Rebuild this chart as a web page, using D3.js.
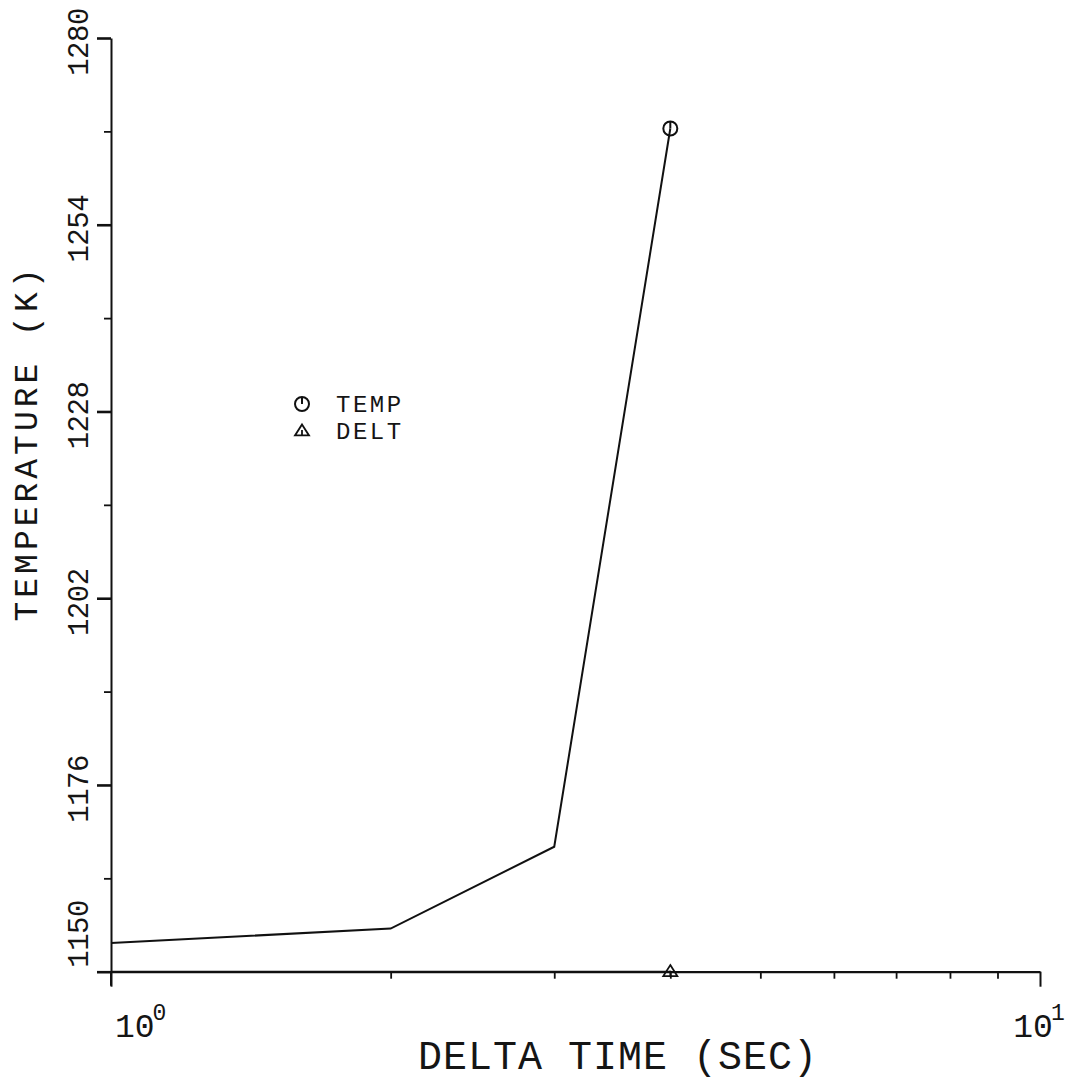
<!DOCTYPE html>
<html>
<head>
<meta charset="utf-8">
<script src="https://cdn.jsdelivr.net/npm/d3@7"></script>
<style>
  body { margin: 0; background: #fff; }
  svg { display: block; }
  text { font-family: "Liberation Mono", "DejaVu Sans Mono", monospace; fill: #151515; }
</style>
</head>
<body>
<svg id="chart" width="1068" height="1082"></svg>
<script>
// Run data: temperature and step size against delta time
const deltaTime = [1, 2, 3, 4];
const tempK = [1154.0, 1156.0, 1167.4, 1267.4];
const deltK = [1150, 1150, 1150, 1150];
const seriesNames = ["TEMP", "DELT"];

// Axis ticks
const yMajorTicks = [1150, 1176, 1202, 1228, 1254, 1280];
const yMinorTicks = [1163, 1189, 1215, 1241, 1267];
const xDecadeTicks = [1, 10];
const xMinorTicks = [2, 3, 4, 5, 6, 7, 8, 9];
const xDecadeBase = ["10", "10"];
const xDecadeExp = ["0", "1"];
const xTitle = "DELTA TIME (SEC)";
const yTitle = "TEMPERATURE (K)";

const svg = d3.select("#chart");
const ink = "#111";

const x = d3.scaleLog().domain([1, 10]).range([111, 1040]);
const y = d3.scaleLinear().domain([1150, 1280]).range([971.7, 38]);

// ---- Y axis ----
const yMajor = svg.append("g").attr("transform", `translate(${x(1)},0)`)
  .call(d3.axisLeft(y).tickValues(yMajorTicks).tickSize(14).tickSizeOuter(0).tickFormat(""));
yMajor.select(".domain").attr("stroke", ink).attr("stroke-width", 2);
yMajor.selectAll(".tick line").attr("stroke", ink).attr("stroke-width", 2.6);

const yMinor = svg.append("g").attr("transform", `translate(${x(1)},0)`)
  .call(d3.axisLeft(y).tickValues(yMinorTicks).tickSize(7).tickFormat(""));
yMinor.select(".domain").remove();
yMinor.selectAll(".tick line").attr("stroke", ink).attr("stroke-width", 1.8);

// axis stub below the origin
svg.append("line")
  .attr("x1", x(1)).attr("x2", x(1))
  .attr("y1", y(1150)).attr("y2", y(1150) + 14)
  .attr("stroke", ink).attr("stroke-width", 2);

// rotated y tick labels
svg.append("g").selectAll("text")
  .data(yMajorTicks)
  .join("text")
  .attr("transform", (d, i) => i === 0
    ? `translate(88,${y(d) - 4}) rotate(-90)`
    : `translate(88,${y(d) + 4}) rotate(-90)`)
  .attr("text-anchor", (d, i) => i === 0 ? "start" : "middle")
  .attr("font-size", 29)
  .attr("letter-spacing", -0.5)
  .text(d => d);

// ---- X axis ----
const xMinor = svg.append("g").attr("transform", `translate(0,${y(1150)})`)
  .call(d3.axisBottom(x).tickValues(xMinorTicks).tickSize(7).tickSizeOuter(0).tickFormat(""));
xMinor.select(".domain").attr("stroke", ink).attr("stroke-width", 2.2);
xMinor.selectAll(".tick line").attr("stroke", ink).attr("stroke-width", 1.8);

const xDecade = svg.append("g").attr("transform", `translate(0,${y(1150)})`)
  .call(d3.axisBottom(x).tickValues(xDecadeTicks).tickSize(15).tickFormat(""));
xDecade.select(".domain").remove();
xDecade.selectAll(".tick line").attr("stroke", ink).attr("stroke-width", 2);

// decade labels with superscript exponents
const decadeLabels = svg.append("g").selectAll("text")
  .data(xDecadeTicks)
  .join("text")
  .attr("x", (d, i) => i === 0 ? x(d) + 4 : x(d) - 1)
  .attr("y", 1037)
  .attr("text-anchor", (d, i) => i === 0 ? "start" : "middle")
  .attr("font-size", 33);
decadeLabels.append("tspan").text((d, i) => xDecadeBase[i]);
decadeLabels.append("tspan")
  .attr("font-size", 23)
  .attr("dx", -2)
  .attr("dy", -17)
  .text((d, i) => xDecadeExp[i]);

// ---- Titles ----
svg.append("text")
  .attr("x", 618).attr("y", 1069)
  .attr("text-anchor", "middle")
  .attr("font-size", 40)
  .attr("letter-spacing", 1)
  .text(xTitle);

svg.append("text")
  .attr("transform", "translate(37,443) rotate(-90)")
  .attr("text-anchor", "middle")
  .attr("font-size", 33)
  .attr("letter-spacing", 4)
  .text(yTitle);

// ---- Series ----
const line = d3.line().x((d, i) => x(deltaTime[i])).y(d => y(d));

svg.append("path")
  .datum(deltK)
  .attr("d", line)
  .attr("fill", "none")
  .attr("stroke", ink)
  .attr("stroke-width", 2);

svg.append("path")
  .datum(tempK)
  .attr("d", line)
  .attr("fill", "none")
  .attr("stroke", ink)
  .attr("stroke-width", 2);

// plotter symbols
function circleSymbol(g, cx, cy) {
  g.append("circle").attr("cx", cx).attr("cy", cy).attr("r", 7)
    .attr("fill", "none").attr("stroke", ink).attr("stroke-width", 2);
  g.append("line").attr("x1", cx).attr("x2", cx).attr("y1", cy - 7).attr("y2", cy)
    .attr("stroke", ink).attr("stroke-width", 2);
}
function triangleSymbol(g, cx, cy) {
  const h = 11, w = 14;
  g.append("path")
    .attr("d", `M${cx},${cy - h * 0.6}L${cx + w / 2},${cy + h * 0.4}L${cx - w / 2},${cy + h * 0.4}Z`)
    .attr("fill", "none").attr("stroke", ink).attr("stroke-width", 1.8);
  g.append("line").attr("x1", cx).attr("x2", cx).attr("y1", cy - 1).attr("y2", cy + h * 0.4)
    .attr("stroke", ink).attr("stroke-width", 1.8);
}

const last = deltaTime.length - 1;
circleSymbol(svg.append("g"), x(deltaTime[last]), y(tempK[last]));
triangleSymbol(svg.append("g"), x(deltaTime[last]), y(deltK[last]));

// ---- Legend ----
const legend = svg.append("g");
circleSymbol(legend.append("g"), 302, 404);
triangleSymbol(legend.append("g"), 302, 431);
legend.selectAll("text")
  .data(seriesNames)
  .join("text")
  .attr("x", 336)
  .attr("y", (d, i) => 412 + i * 27)
  .attr("font-size", 24)
  .attr("letter-spacing", 2.5)
  .text(d => d);
</script>
</body>
</html>
